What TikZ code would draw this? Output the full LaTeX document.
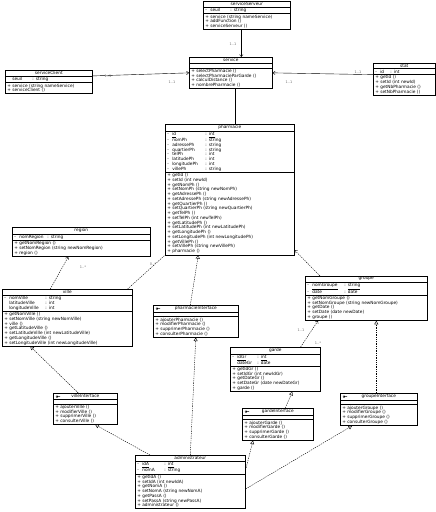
\documentclass[tikz,border=0pt]{standalone}
\usepackage{fontspec}
\usetikzlibrary{shapes.multipart,arrows.meta}
\newfontfamily\dvsfam{DejaVu Sans}
\newcommand\clsfont{\dvsfam\fontsize{4.3}{4.75}\selectfont}
\newcommand\lblfont{\dvsfam\fontsize{3.5}{4}\selectfont}
\newcommand\Pub{\makebox[5pt][l]{+}}
\newcommand\Pri{\makebox[5pt][l]{-}}
\newcommand\Non{\makebox[5pt][l]{}}
\newcommand\att[3]{\makebox[#1pt][l]{#2}: #3}
\newcommand\ttl[1]{\hbox to \hsize{\hfil #1\hfil}}
\newcommand\emp{\rule{0pt}{2.5pt}}
\tikzset{
  cls/.style={draw, line width=0.6pt, fill=white, rectangle split, rectangle split parts=3,
    anchor=north west, inner xsep=2pt, inner ysep=0.9pt, font=\clsfont, align=left},
  lbl/.style={font=\lblfont, text=black!55, inner sep=0.5pt},
  assoc/.style={line width=0.4pt, -{Straight Barb[length=2.2pt,width=3.5pt]}},
  depend/.style={line width=0.4pt, dash pattern=on 1.3pt off 1pt, -{Straight Barb[length=2.2pt,width=3.5pt]}},
  plain/.style={line width=0.4pt, dash pattern=on 1.3pt off 1pt},
  real/.style={line width=0.4pt, dash pattern=on 1.3pt off 1pt, -{Triangle[open,length=3.5pt,width=4pt]}},
  icon/.style={line width=0.35pt}
}
\begin{document}
\begin{tikzpicture}[x=1pt,y=-1pt]
\useasboundingbox (0,0) rectangle (436,512);
\fill[white] (0,0) rectangle (436,512);

% classes
\node[cls,text width=83pt] (ss) at (203,1) {\ttl{serviceServeur}\nodepart{two}\Pri\att{20}{seuil}{string}\nodepart{three}\Pub service (string nameService)\\\Pub addFunction ()\\\Pub serviceServeur ()};

\node[cls,text width=79pt] (srv) at (189,57) {\ttl{service}\nodepart{two}\emp\nodepart{three}\Pub selectPharmacie ()\\\Pub selectPharmacieParGarde ()\\\Pub calculDistance ()\\\Pub nombrePharmacie ()};

\node[cls,text width=83pt] (sc) at (5,70) {\ttl{serviceClient}\nodepart{two}\Non\att{20}{seuil}{string}\nodepart{three}\Pub service (string nameService)\\\Pub serviceClient ()};

\node[cls,text width=58pt] (st) at (373,63) {\ttl{stat}\nodepart{two}\Pri\att{10}{id}{int}\nodepart{three}\Pub getId ()\\\Pub setId (int newId)\\\Pub getNbPharmacie ()\\\Pub setNbPharmacie ()};

\node[cls,text width=125pt] (ph) at (165,124) {\ttl{pharmacie}\nodepart{two}\Pri\att{33}{\underline{id}}{\underline{int}}\\\Pri\att{33}{nomPh}{string}\\\Pri\att{33}{adressePh}{string}\\\Pri\att{33}{quartierPh}{string}\\\Pri\att{33}{telPh}{int}\\\Pri\att{33}{latitudePh}{int}\\\Pri\att{33}{longitudePh}{int}\\\Pri\att{33}{villePh}{string}\nodepart{three}\Pub getId ()\\\Pub setId (int newId)\\\Pub getNomPh ()\\\Pub setNomPh (string newNomPh)\\\Pub getAdressePh ()\\\Pub setAdressePh (string newAdressePh)\\\Pub getQuartierPh ()\\\Pub setQuartierPh (string newQuartierPh)\\\Pub getTelPh ()\\\Pub setTelPh (int newTelPh)\\\Pub getLatitudePh ()\\\Pub setLatitudePh (int newLatitudePh)\\\Pub getLongitudePh ()\\\Pub setLongitudePh (int newLongitudePh)\\\Pub getVillePh ()\\\Pub setVillePh (string newVillePh)\\\Pub pharmacie ()};

\node[cls,text width=134pt] (rg) at (12,227) {\ttl{region}\nodepart{two}\Pri\att{28}{nomRegion}{string}\nodepart{three}\Pub getNomRegion ()\\\Pub setNomRegion (string newNomRegion)\\\Pub region ()};

\node[cls,text width=126pt] (vl) at (2,289) {\ttl{ville}\nodepart{two}\Pri\att{36}{nomVille}{string}\\\Non\att{36}{latitudeVille}{int}\\\Non\att{36}{longitudeVille}{int}\nodepart{three}\Pub getNomVille ()\\\Pub setNomVille (string newNomVille)\\\Pub ville ()\\\Pub getLatitudeVille ()\\\Pub setLatitudeVille (int newLatitudeVille)\\\Pub getLongitudeVille ()\\\Pub setLongitudeVille (int newLongitudeVille)};

\node[cls,text width=81pt] (pi) at (153,305) {\ttl{pharmacieInterface}\nodepart{two}\emp\nodepart{three}\Pub ajouterPharmacie ()\\\Pub modifierPharmacie ()\\\Pub supprimerPharmacie ()\\\Pub consulterPharmacie ()};

\node[cls,text width=118pt] (gp) at (305,276) {\ttl{groupe}\nodepart{two}\Pri\att{32}{\underline{nomGroupe}}{\underline{string}}\\\Pri\att{32}{date}{date}\nodepart{three}\Pub getNomGroupe ()\\\Pub setNomGroupe (string newNomGroupe)\\\Pub getDate ()\\\Pub setDate (date newDate)\\\Pub groupe ()};

\node[cls,text width=86pt] (gd) at (230,347) {\ttl{garde}\nodepart{two}\Pri\att{20}{\underline{idGr}}{\underline{int}}\\\Non\att{20}{dateGr}{date}\nodepart{three}\Pub getIdGr ()\\\Pub setIdGr (int newIdGr)\\\Pub getDateGr ()\\\Pub setDateGr (date newDateGr)\\\Pub garde ()};

\node[cls,text width=67pt] (gi) at (242,408) {\ttl{gardeInterface}\nodepart{two}\emp\nodepart{three}\Pub ajouterGarde ()\\\Pub modifierGarde ()\\\Pub supprimerGarde ()\\\Pub consulterGarde ()};

\node[cls,text width=73pt] (gpi) at (340,393) {\ttl{groupeInterface}\nodepart{two}\emp\nodepart{three}\Pub ajouterGroupe ()\\\Pub modifierGroupe ()\\\Pub supprimerGroupe ()\\\Pub consulterGroupe ()};

\node[cls,text width=60pt] (vi) at (53,393) {\ttl{villeInterface}\nodepart{two}\emp\nodepart{three}\Pub ajouterVille ()\\\Pub modifierVille ()\\\Pub supprimerVille ()\\\Pub consulterVille ()};

\node[cls,text width=106pt] (ad) at (135,455) {\ttl{administrateur}\nodepart{two}\Pri\att{22}{\underline{idA}}{\underline{int}}\\\Pri\att{22}{nomA}{string}\nodepart{three}\Pub getIdA ()\\\Pub setIdA (int newIdA)\\\Pub getNomA ()\\\Pub setNomA (string newNomA)\\\Pub getPassA ()\\\Pub setPassA (string newPassA)\\\Pub administrateur ()};

% interface icons
\foreach \n in {pi,gi,gpi,vi}{
  \draw[icon] ([xshift=4pt,yshift=-3.6pt]\n.north west) circle (1pt) -- ++(3pt,0);
}

% connectors
\draw[assoc] ([xshift=-5.5pt]ss.south) -- ([xshift=10.5pt]srv.north);
\node[lbl] (l1) at (233,44) {1..1};

\draw[assoc] ([yshift=6pt]sc.east) -- (srv.west);
\node[lbl] (l2) at (108,76) {1..1};
\node[lbl] (l3) at (172,82) {1..1};

\draw[assoc] ([yshift=4.5pt]st.west) -- (srv.east);
\node[lbl] (l4) at (289,82) {1..1};
\node[lbl] (l5) at (358,72) {1..1};

\draw[line width=0.4pt] ([xshift=4.5pt]srv.south) -- ([xshift=5.5pt]ph.north);

\draw[depend] ([xshift=-17pt]vl.north) -- ([xshift=-13pt]rg.south);
\node[lbl] (l6) at (83,267) {1..*};

\draw[plain] ([xshift=-5pt]vl.north east) -- (ph.south west);
\node[lbl] (l7) at (153,264) {0..*};

\draw[real] ([xshift=-5.5pt]pi.north) -- ([xshift=-31.5pt]ph.south);

\draw[depend] ([xshift=15pt]gp.north west) -- ([yshift=5pt]ph.south east);

\draw[depend] ([xshift=-20pt]gd.north east) -- ([xshift=13pt]gp.south west);
\node[lbl] (l8) at (301,330) {1..1};
\node[lbl] (l9) at (318,343) {1..*};

\draw[real] ([xshift=-2.5pt]gpi.north) -- ([xshift=10pt]gp.south);
\draw[real] ([xshift=7.5pt]gi.north) -- ([xshift=17pt]gd.south);
\draw[real] ([xshift=-7pt]vi.north) -- ([xshift=-37pt]vl.south);

\draw[real] ([xshift=15pt]ad.north west) -- ([xshift=10pt]vi.south);
\draw[real] (ad.north) -- (pi.south);
\draw[real] ([yshift=-15pt]ad.north east) -- ([xshift=11pt]gi.south west);
\draw[real] ([yshift=-7pt]ad.east) -- ([xshift=12pt]gpi.south west);
\end{tikzpicture}
\end{document}
